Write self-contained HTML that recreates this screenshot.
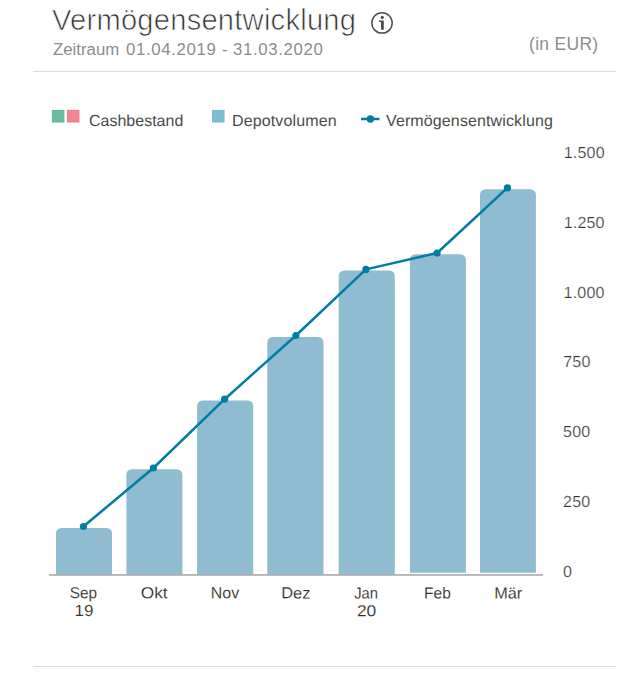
<!DOCTYPE html>
<html lang="de">
<head>
<meta charset="utf-8">
<title>Vermögensentwicklung</title>
<style>
  html, body { margin: 0; padding: 0; background: #ffffff; }
  body { width: 642px; height: 684px; position: relative; overflow: hidden;
         font-family: "Liberation Sans", sans-serif; }
  .abs { position: absolute; white-space: nowrap; line-height: 1; }
  #title { left: 52px; top: 6.4px; font-size: 29.1px; color: #333333; letter-spacing: 0.25px; -webkit-text-stroke: 0.7px #ffffff; }
  .sub { top: 41.5px; font-size: 16px; color: #8c8c8c; transform: scaleX(1.05); transform-origin: 0 0; }
  .subd { letter-spacing: 0.6px; }
  #eur { left: 529px; top: 36.3px; font-size: 17.5px; color: #8e8e8e; letter-spacing: 0.3px; }
  .rule { position: absolute; left: 33px; width: 583px; height: 1px; background: #dcdcdc; }
  .leg { font-size: 16px; color: #4b4b4b; top: 112.5px; transform: rotate(0.03deg); transform-origin: 0 0; }
  svg { position: absolute; left: 0; top: 0; }
  .yl { font-size: 16px; letter-spacing: 0.2px; fill: #333333; font-family: "Liberation Sans", sans-serif; }
  .xl { font-size: 16px; fill: #333333; font-family: "Liberation Sans", sans-serif; }
</style>
</head>
<body>
  <div id="title" class="abs">Vermögensentwicklung</div>
  <div id="sub" class="abs sub" style="left:52.6px">Zeitraum</div>
  <div id="sub2" class="abs sub subd" style="left:125.8px">01.04.2019</div>
  <div id="sub3" class="abs sub" style="left:221.9px">-</div>
  <div id="sub4" class="abs sub subd" style="left:233px">31.03.2020</div>
  <div id="eur" class="abs">(in EUR)</div>
  <div class="rule" style="top:71px"></div>
  <div class="rule" style="top:666px"></div>
  <div class="abs leg" id="l1" style="left:89px">Cashbestand</div>
  <div class="abs leg" id="l2" style="left:232.4px;letter-spacing:0.13px">Depotvolumen</div>
  <div class="abs leg" id="l3" style="left:385.5px;letter-spacing:0.12px">Vermögensentwicklung</div>

  <svg width="642" height="684" viewBox="0 0 642 684">
    <!-- info icon -->
    <g id="info">
      <circle cx="382" cy="22.9" r="10.2" fill="none" stroke="#505050" stroke-width="1.5"/>
      <circle cx="382.3" cy="17.4" r="1.55" fill="#4b4b4b"/>
      <path d="M379.1 20.6 H383.8 V29.7 H381 V21.9 H379.1 Z" fill="#4b4b4b"/>
    </g>
    <!-- legend squares -->
    <rect x="52.4" y="110.4" width="11.5" height="11.6" fill="#68bda0" stroke="#5bb596" stroke-width="1"/>
    <rect x="67.4" y="110.4" width="11.5" height="11.6" fill="#ef8696" stroke="#ed798d" stroke-width="1"/>
    <rect x="212.5" y="110.4" width="11.5" height="11.6" fill="#7cbdd6" stroke="#74b7d1" stroke-width="1"/>
    <!-- legend line symbol -->
    <line x1="361" y1="119" x2="379.5" y2="119" stroke="#007da2" stroke-width="2.5"/>
    <circle cx="370.4" cy="119" r="3.7" fill="#007da2"/>

    <!-- bars -->
    <g fill="#8fbcd0">
      <path d="M56 575 V533.5 a5.5 5.5 0 0 1 5.5 -5.5 H106.5 a5.5 5.5 0 0 1 5.5 5.5 V575 Z"/>
      <path d="M126.4 575 V474.7 a5.5 5.5 0 0 1 5.5 -5.5 H176.9 a5.5 5.5 0 0 1 5.5 5.5 V575 Z"/>
      <path d="M197.1 575 V405.9 a5.5 5.5 0 0 1 5.5 -5.5 H247.7 a5.5 5.5 0 0 1 5.5 5.5 V575 Z"/>
      <path d="M267.3 575 V342.5 a5.5 5.5 0 0 1 5.5 -5.5 H318.0 a5.5 5.5 0 0 1 5.5 5.5 V575 Z"/>
      <path d="M338.7 575 V275.9 a5.5 5.5 0 0 1 5.5 -5.5 H389.3 a5.5 5.5 0 0 1 5.5 5.5 V575 Z"/>
      <path d="M409.9 572.7 V259.7 a5.5 5.5 0 0 1 5.5 -5.5 H460.4 a5.5 5.5 0 0 1 5.5 5.5 V572.7 Z"/>
      <path d="M480 572.7 V194.7 a5.5 5.5 0 0 1 5.5 -5.5 H530.4 a5.5 5.5 0 0 1 5.5 5.5 V572.7 Z"/>
    </g>
    <!-- axis line -->
    <rect x="49" y="574.1" width="494" height="1.7" fill="#adadad"/>

    <!-- line series -->
    <polyline points="83.4,526.5 153.4,468 224.6,399.2 295.9,335.5 365.9,269.4 437.1,253 507.4,187.9"
              fill="none" stroke="#007da2" stroke-width="2.5" stroke-linejoin="round" stroke-linecap="round"/>
    <g fill="#007da2">
      <circle cx="83.4" cy="526.5" r="3.6"/>
      <circle cx="153.4" cy="468" r="3.6"/>
      <circle cx="224.6" cy="399.2" r="3.6"/>
      <circle cx="295.9" cy="335.5" r="3.6"/>
      <circle cx="365.9" cy="269.4" r="3.6"/>
      <circle cx="437.1" cy="253" r="3.6"/>
      <circle cx="507.4" cy="187.9" r="3.6"/>
    </g>

    <!-- y labels -->
    <g class="yl" transform="rotate(0.06 600 360)" stroke="#ffffff" stroke-width="0.25">
      <text x="563.5" y="158">1.500</text>
      <text x="563.5" y="228">1.250</text>
      <text x="563.5" y="298">1.000</text>
      <text x="563.2" y="367">750</text>
      <text x="563.2" y="437">500</text>
      <text x="563.2" y="507">250</text>
      <text x="563.2" y="577">0</text>
    </g>
    <!-- x labels -->
    <g class="xl" transform="rotate(0.06 300 600)" stroke="#ffffff" stroke-width="0.1">
      <text x="69.69" y="598.4" textLength="27.26" lengthAdjust="spacingAndGlyphs">Sep</text>
      <text x="74.51" y="616.2" textLength="18.93" lengthAdjust="spacingAndGlyphs">19</text>
      <text x="140.77" y="598.4" textLength="26.81" lengthAdjust="spacingAndGlyphs">Okt</text>
      <text x="210.80" y="598.4" textLength="28.35" lengthAdjust="spacingAndGlyphs">Nov</text>
      <text x="281.21" y="598.4" textLength="29.26" lengthAdjust="spacingAndGlyphs">Dez</text>
      <text x="354.13" y="598.4" textLength="23.68" lengthAdjust="spacingAndGlyphs">Jan</text>
      <text x="356.94" y="616.2" textLength="19.35" lengthAdjust="spacingAndGlyphs">20</text>
      <text x="424.08" y="598.4" textLength="26.75" lengthAdjust="spacingAndGlyphs">Feb</text>
      <text x="494.22" y="598.4" textLength="28.07" lengthAdjust="spacingAndGlyphs">Mär</text>
    </g>
  </svg>
</body>
</html>
